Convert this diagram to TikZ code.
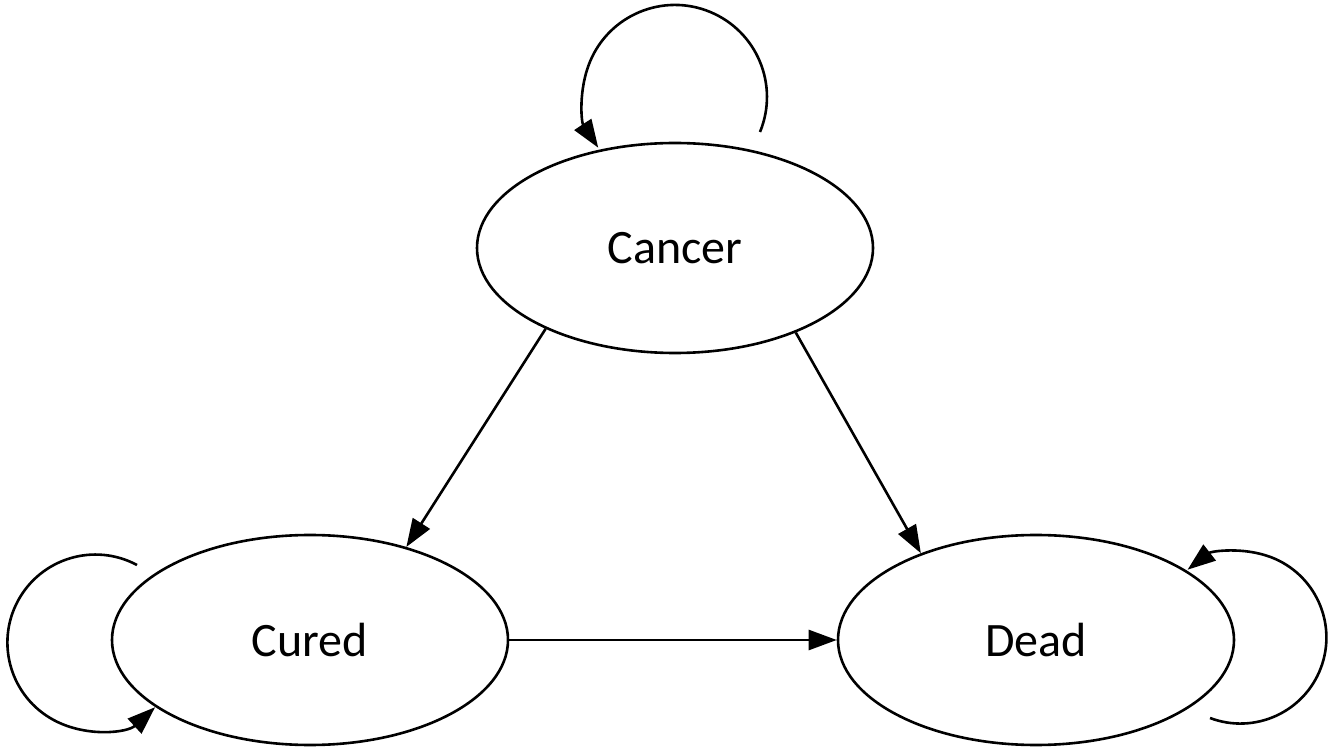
\documentclass[tikz,border=0pt]{standalone}
\usepackage{fontspec}
\setmainfont{Carlito}
\usetikzlibrary{arrows.meta,shapes.geometric}

\begin{document}
\begin{tikzpicture}[x=0.5pt, y=0.5pt, ->, >={Triangle[length=14pt,width=10pt]}, line width=1.3pt,
  stage/.style={draw, ellipse, minimum width=198pt, minimum height=105pt, inner sep=0pt, font=\fontsize{24}{28}\selectfont}]
\path[use as bounding box] (0,0) rectangle (1334,-748);
\node[stage] (cancer) at (675,-248) {Cancer};
\node[stage] (cured) at (310,-640) {Cured};
\node[stage] (dead) at (1036,-640) {Dead};
\coordinate (cancerloop) at (760,-132);
\coordinate (curedloop) at (137,-565);
\coordinate (deadloop) at (1210,-718);
\path (cancer.212) edge (cured.44);
\path (cancer.-35) edge (dead.143);
\path (cured.east) edge (dead.west);
\draw (cancerloop) arc[start angle=-22.4, end angle=213.5, radius=46pt];
\draw (curedloop) arc[start angle=61.8, end angle=312.7, radius=44pt];
\draw (deadloop) arc[start angle=-110.7, end angle=127.9, radius=43pt];
\end{tikzpicture}
\end{document}
